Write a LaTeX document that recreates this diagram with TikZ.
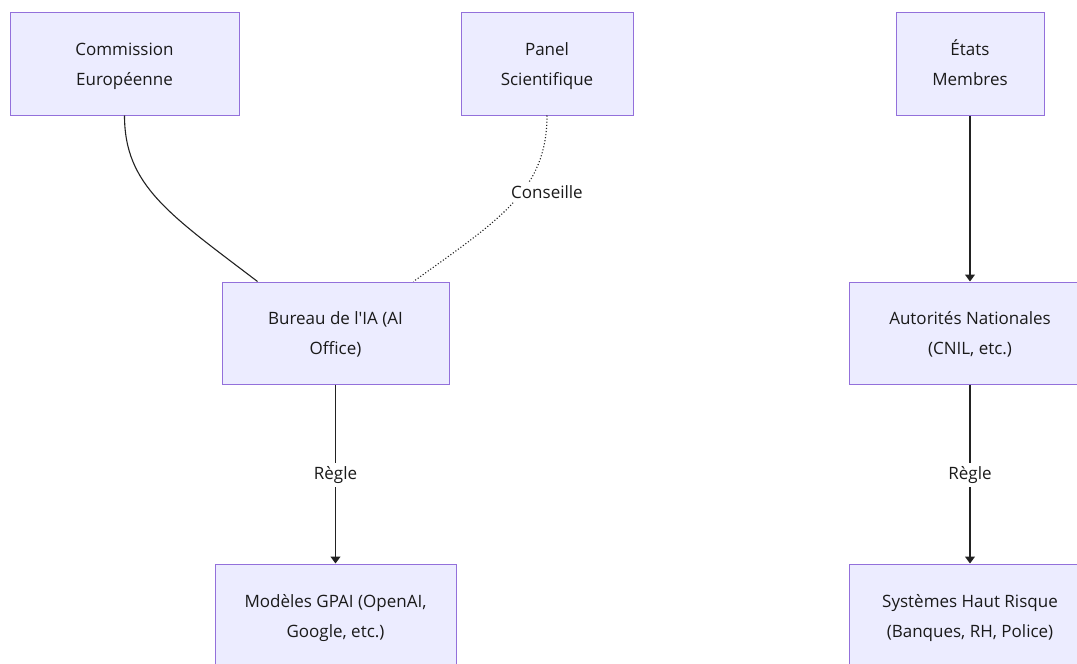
\documentclass[tikz,border=0pt]{standalone}
\usepackage{fontspec}
\setmainfont{Open Sans}
\usetikzlibrary{arrows.meta}
\definecolor{boxfill}{HTML}{ECECFF}
\definecolor{boxline}{HTML}{9370DB}
\definecolor{edge}{HTML}{222222}
\definecolor{txt}{HTML}{1A1A1A}
\newcommand{\twolines}[2]{\strut#1\\#2\strut}
\tikzset{
  box/.style={draw=boxline, fill=boxfill, line width=1pt, inner sep=0pt},
  boxtext/.style={align=center, inner sep=0pt, text=txt, yshift=-0.5pt,
    font=\fontsize{17}{30}\selectfont},
  conn/.style={draw=edge, line width=1.1pt},
  arr/.style={conn, -{Triangle[length=7pt,width=10pt]}},
  lbl/.style={fill=white, inner sep=3pt, text=txt, font=\fontsize{17}{18}\selectfont}
}
\begin{document}
\begin{tikzpicture}[x=1pt,y=-1pt]
\useasboundingbox (0,0) rectangle (1077,664);
\node[box, minimum width=229pt, minimum height=103pt,
  label={[boxtext]center:\twolines{Commission}{Européenne}}] (comm) at (124.5,63.5) {};
\node[box, minimum width=172pt, minimum height=103pt,
  label={[boxtext]center:\twolines{Panel}{Scientifique}}] (panel) at (547,63.5) {};
\node[box, minimum width=148pt, minimum height=103pt,
  label={[boxtext]center:\twolines{États}{Membres}}] (etats) at (970,63.5) {};
\node[box, minimum width=227pt, minimum height=102pt,
  label={[boxtext]center:\twolines{Bureau de l\textquotesingle IA (AI}{Office)}}] (bureau) at (335.5,333) {};
\node[box, minimum width=242pt, minimum height=102pt,
  label={[boxtext]center:\twolines{Autorités Nationales}{(CNIL, etc.)}}] (auto) at (970,333) {};
\node[box, minimum width=241pt, minimum height=103pt,
  label={[boxtext]center:\twolines{Modèles GPAI (OpenAI,}{Google, etc.)}}] (gpai) at (335.5,615.5) {};
\node[box, minimum width=242pt, minimum height=103pt,
  label={[boxtext]center:\twolines{Systèmes Haut Risque}{(Banques, RH, Police)}}] (sys) at (970,615.5) {};

\coordinate (b1) at ([xshift=36pt]bureau.north west);
\coordinate (b2) at ([xshift=192pt]bureau.north west);
\draw[conn] (comm.south) .. controls +(0,70) and +(-88,-67) .. (b1);
\draw[conn, dotted] (panel.south) .. controls +(0,75) and +(86,-62) .. (b2);
\node[lbl] (lc) at (547,192) {Conseille};

\draw[arr] (bureau.south) -- (gpai.north);
\node[lbl] (lr1) at (335.5,475) {Règle};
\draw[arr] (etats.south) -- (auto.north);
\draw[arr] (auto.south) -- (sys.north);
\node[lbl] (lr2) at (970,475) {Règle};
\end{tikzpicture}
\end{document}
